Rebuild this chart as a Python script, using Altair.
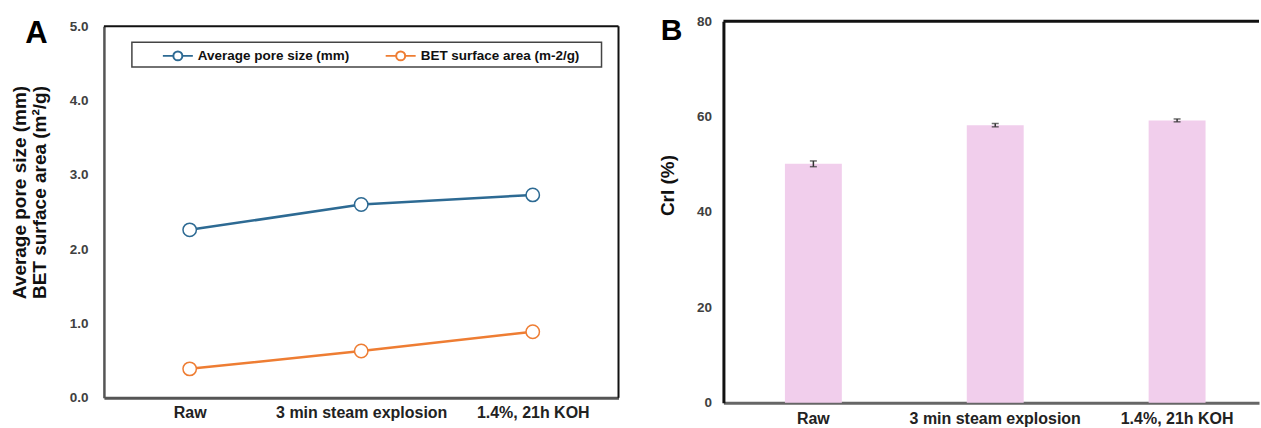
import altair as alt
import pandas as pd

# ---------------- data ----------------
categories = ["Raw", "3 min steam explosion", "1.4%, 21h KOH"]
pore_size = [2.26, 2.60, 2.73]
bet_area = [0.39, 0.63, 0.89]
series_names = ["Average pore size (mm)", "BET surface area (m-2/g)"]
series_colors = ["#2D6A93", "#EE7D33"]

cri = [50.1, 58.2, 59.2]
cri_err = [0.6, 0.35, 0.3]

FONT = "Liberation Sans"
W_A, H_A = 515, 377
W_B, H_B = 536, 382

dfA = pd.DataFrame({
    "cat": categories * 2,
    "series": [series_names[0]] * len(categories) + [series_names[1]] * len(categories),
    "value": pore_size + bet_area,
})
dfB = pd.DataFrame({
    "cat": categories,
    "cri": cri,
    "lo": [c - e for c, e in zip(cri, cri_err)],
    "hi": [c + e for c, e in zip(cri, cri_err)],
})
one = pd.DataFrame({"k": [0]})

LEG_PATH = "M-1,0H-0.3M0.3,0H1M0.3,0A0.3,0.3,0,1,1,-0.3,0A0.3,0.3,0,1,1,0.3,0Z"

# ---------------- panel A ----------------
xA = alt.X("cat:N", sort=categories,
           scale=alt.Scale(type="point", padding=0.5),
           axis=alt.Axis(title=None, labelAngle=0, ticks=False, labelPadding=7,
                         labelFontSize=16, labelFontWeight="bold", labelColor="#222",
                         labelFont=FONT, domainColor="#555", domainWidth=3))
yA = alt.Y("value:Q",
           scale=alt.Scale(domain=[0, 5], range=[H_A, 5], nice=False, zero=False),
           axis=alt.Axis(values=[0, 1, 2, 3, 4, 5], format=".1f", grid=False, ticks=False,
                         labelPadding=16, labelFontSize=13.5, labelFontWeight="bold",
                         labelColor="#404040", labelFont=FONT,
                         domainColor="#555", domainWidth=2.5,
                         title=["Average pore size (mm)", "BET surface area (m\u00b2/g)"],
                         titleX=-74, titleY=171, titleFontSize=19, titleFontWeight="bold",
                         titleLineHeight=20, titleColor="#111", titleFont=FONT))
colorA = alt.Color("series:N", sort=series_names,
                   scale=alt.Scale(domain=series_names, range=series_colors),
                   legend=alt.Legend(title=None, orient="none", legendX=58, legendY=18.5,
                                     direction="horizontal", columns=2, columnPadding=32,
                                     symbolType=LEG_PATH, symbolSize=900, symbolStrokeWidth=2,
                                     symbolFillColor="white", labelFontSize=13.5,
                                     labelFontWeight="bold", labelFont=FONT, labelColor="#111",
                                     labelOffset=4, padding=0))

legend_box = alt.Chart(one).mark_rect(fill="white", stroke="#444", strokeWidth=1.5).encode(
    x=alt.value(28), x2=alt.value(498), y=alt.value(21), y2=alt.value(46))
linesA = alt.Chart(dfA).mark_line(strokeWidth=2.5).encode(x=xA, y=yA, color=colorA)
pointsA = alt.Chart(dfA).mark_point(filled=False, fill="white", size=180, strokeWidth=1.5,
                                    opacity=1).encode(x=xA, y=yA, color=colorA)
topA = alt.Chart(one).mark_rule(color="#111", strokeWidth=2).encode(
    x=alt.value(0), x2=alt.value(W_A), y=alt.value(5))
rightA = alt.Chart(one).mark_rule(color="#111", strokeWidth=2).encode(
    x=alt.value(W_A), y=alt.value(5), y2=alt.value(H_A))
letterA = alt.Chart(one).mark_text(text="A", fontSize=31, fontWeight="bold", font=FONT,
                                   align="center", baseline="alphabetic", color="black").encode(
    x=alt.value(-67.5), y=alt.value(22))

chartA = alt.layer(legend_box, linesA, pointsA, topA, rightA, letterA).properties(
    width=W_A, height=H_A)

# ---------------- panel B ----------------
xB = alt.X("cat:N", sort=categories,
           scale=alt.Scale(paddingInner=0.687, paddingOuter=0.316, align=0.535),
           axis=alt.Axis(title=None, labelAngle=0, ticks=False, labelPadding=8,
                         labelFontSize=16, labelFontWeight="bold", labelColor="#222",
                         labelFont=FONT, domainColor="#666", domainWidth=3))
yB = alt.Y("cri:Q", scale=alt.Scale(domain=[0, 80], nice=False),
           axis=alt.Axis(values=[0, 20, 40, 60, 80], grid=False, ticks=False,
                         labelPadding=12, labelFontSize=13.5, labelFontWeight="bold",
                         labelColor="#404040", labelFont=FONT,
                         domainColor="#111", domainWidth=3,
                         title="CrI (%)", titleX=-46, titleY=164, titleFontSize=19,
                         titleFontWeight="bold", titleColor="#111", titleFont=FONT))

barsB = alt.Chart(dfB).mark_bar(color="#F1CEEC").encode(x=xB, y=yB)
errB = alt.Chart(dfB).mark_rule(color="#333", strokeWidth=1.5).encode(
    x=alt.X("cat:N", sort=categories), y=alt.Y("lo:Q"), y2="hi:Q")
capLo = alt.Chart(dfB).mark_tick(color="#333", thickness=1.5, size=7).encode(
    x=alt.X("cat:N", sort=categories), y=alt.Y("lo:Q"))
capHi = alt.Chart(dfB).mark_tick(color="#333", thickness=1.5, size=7).encode(
    x=alt.X("cat:N", sort=categories), y=alt.Y("hi:Q"))
topB = alt.Chart(one).mark_rule(color="#111", strokeWidth=3).encode(
    x=alt.value(0), x2=alt.value(W_B), y=alt.value(0))
letterB = alt.Chart(one).mark_text(text="B", fontSize=30, fontWeight="bold", font=FONT,
                                   align="center", baseline="alphabetic", color="black").encode(
    x=alt.value(-52), y=alt.value(19))

chartB = alt.layer(barsB, errB, capLo, capHi, topB, letterB).properties(
    width=W_B, height=H_B)

chart = alt.hconcat(chartA, chartB, spacing=105, bounds="flush").properties(
    padding={"left": 11, "top": 14, "right": 0, "bottom": 0}
).configure_view(stroke=None)

chart.save("out.html", embed_options={"renderer": "svg", "actions": False})
